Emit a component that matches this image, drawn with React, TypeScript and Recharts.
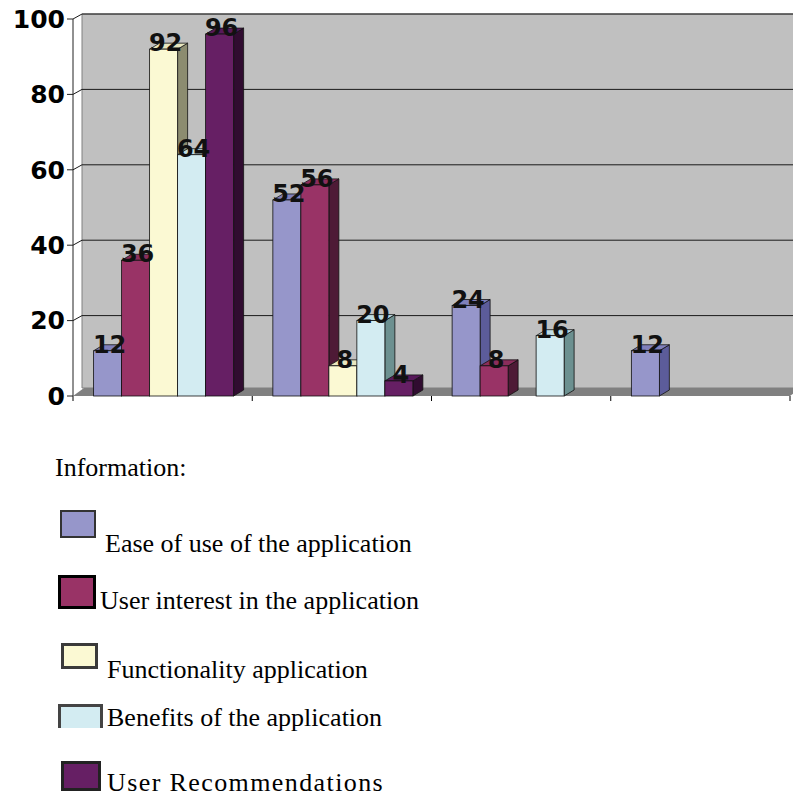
import React from "react";
import { BarChart, Bar, XAxis, YAxis, ReferenceArea, LabelList, Legend } from "recharts";

const categories = ["Group 1", "Group 2", "Group 3", "Group 4"];
const easeOfUse = [12, 52, 24, 12];
const userInterest = [36, 56, 8, 0];
const functionality = [92, 8, 0, 0];
const benefits = [64, 20, 16, 0];
const recommendations = [96, 4, 0, 0];
const yTicks = [0, 20, 40, 60, 80, 100];

const seriesKeys = ["ease", "interest", "functionality", "benefits", "recommendations"];
const seriesNames = [
  "Ease of use of the application",
  "User interest in the application",
  "Functionality application",
  "Benefits of the application",
  "User Recommendations",
];
const seriesValues = [easeOfUse, userInterest, functionality, benefits, recommendations];

const frontColors = ["#9696ca", "#993366", "#fbf9d3", "#d3ecf2", "#661f64"];
const topColors = ["#8080bb", "#8a2d5b", "#e9e7bf", "#c0dde3", "#57195a"];
const sideColors = ["#5c5c9a", "#4e1a36", "#8c8c70", "#6c9090", "#300c30"];

const data = categories.map((category, i) => {
  const row: Record<string, string | number> = { category };
  seriesKeys.forEach((k, s) => {
    row[k] = seriesValues[s][i];
  });
  return row;
});

// fake 3d depth
const DX = 10;
const DY = -6;
const WALL_DX = 9;
const WALL_DY = -5;
const FLOOR_DX = 11;
const FLOOR_DY = -8;

const legendLayout = [
  { box: [60, 510, 36, 28, 2, "#333"], text: [105, 531], spacing: 0 },
  { box: [58, 575, 38, 34, 3, "#000"], text: [100, 588], spacing: 0 },
  { box: [61, 643, 37, 26, 3, "#3a3a3a"], text: [107, 657], spacing: 0 },
  { box: [58, 704, 45, 24, 3, "#444"], text: [107, 705], spacing: 0, open: true },
  { box: [61, 761, 40, 30, 3, "#222"], text: [107, 770], spacing: 1.4 },
];

function Backdrop(props: any) {
  const { x, y, width, height } = props;
  const bottom = y + height;
  const right = x + width;
  const py = (v: number) => y + height * (1 - v / 100);
  return (
    <g>
      <polygon
        points={`${x + WALL_DX},${y + WALL_DY} ${right + WALL_DX},${y + WALL_DY} ${right + WALL_DX},${bottom + FLOOR_DY} ${x + WALL_DX},${bottom + FLOOR_DY}`}
        fill="#c0c0c0"
        stroke="#808080"
        strokeWidth={1}
      />
      {yTicks
        .filter((v) => v > 0)
        .map((v) => (
          <polyline
            key={v}
            points={`${x},${py(v)} ${x + WALL_DX},${py(v) + WALL_DY} ${right + WALL_DX},${py(v) + WALL_DY}`}
            fill="none"
            stroke="#1a1a1a"
            strokeWidth={1}
          />
        ))}
      <polygon
        points={`${x},${bottom} ${right},${bottom} ${right + FLOOR_DX},${bottom + FLOOR_DY} ${x + FLOOR_DX},${bottom + FLOOR_DY}`}
        fill="#808080"
      />
      {categories.concat([""]).map((_, i) => (
        <line
          key={i}
          x1={x + (i * width) / categories.length}
          x2={x + (i * width) / categories.length}
          y1={bottom}
          y2={bottom + 5}
          stroke="#000"
          strokeWidth={1}
        />
      ))}
    </g>
  );
}

function makeBar3D(s: number) {
  return (props: any) => {
    const { x, y, width, height } = props;
    if (!height || height <= 0) return <g />;
    return (
      <g>
        <polygon
          points={`${x + width},${y} ${x + width + DX},${y + DY} ${x + width + DX},${y + height + DY} ${x + width},${y + height}`}
          fill={sideColors[s]}
          stroke="#111"
          strokeWidth={0.8}
        />
        <polygon
          points={`${x},${y} ${x + DX},${y + DY} ${x + width + DX},${y + DY} ${x + width},${y}`}
          fill={topColors[s]}
          stroke="#111"
          strokeWidth={0.8}
        />
        <rect x={x} y={y} width={width} height={height} fill={frontColors[s]} stroke="#111" strokeWidth={0.8} />
      </g>
    );
  };
}

function renderLabel(props: any) {
  const vb = props.viewBox || {};
  const x = props.x ?? vb.x;
  const y = props.y ?? vb.y;
  const width = props.width ?? vb.width;
  const value = props.value;
  if (!value) return null;
  return (
    <text
      x={x + width / 2 + 2}
      y={y + 2}
      textAnchor="middle"
      fontFamily="DejaVu Sans"
      fontWeight="bold"
      fontSize={24}
      fill="#111"
    >
      {value}
    </text>
  );
}

function InfoLegend() {
  const font = { fontFamily: "'Liberation Serif', 'Times New Roman', serif", fontSize: 26, lineHeight: "26px", color: "#000" };
  return (
    <div style={{ position: "relative", width: 793, height: 0 }}>
      <span style={{ ...font, position: "absolute", left: 55, top: 455, whiteSpace: "nowrap" }}>Information:</span>
      {legendLayout.map((item, i) => {
        const [left, top, w, h, bw, bc] = item.box as [number, number, number, number, number, string];
        return (
          <React.Fragment key={i}>
            <div
              style={{
                position: "absolute",
                left,
                top,
                width: w,
                height: h,
                boxSizing: "border-box",
                background: frontColors[i],
                border: `${bw}px solid ${bc}`,
                borderBottom: item.open ? "none" : `${bw}px solid ${bc}`,
              }}
            />
            <span
              style={{
                ...font,
                position: "absolute",
                left: item.text[0],
                top: item.text[1],
                whiteSpace: "nowrap",
                letterSpacing: item.spacing,
              }}
            >
              {seriesNames[i]}
            </span>
          </React.Fragment>
        );
      })}
    </div>
  );
}

export default function App() {
  return (
    <div style={{ position: "absolute", left: 0, top: 0, width: 793, height: 798, background: "#fff" }}>
      <BarChart
        width={793}
        height={798}
        data={data}
        margin={{ top: 19, right: 3, left: 0, bottom: 402 }}
        barCategoryGap="11.5%"
        barGap={0}
      >
        <ReferenceArea y1={0} y2={100} shape={Backdrop} ifOverflow="visible" zIndex={-200} />
        <XAxis dataKey="category" tick={false} tickLine={false} height={0} axisLine={{ stroke: "#000" }} />
        <YAxis
          domain={[0, 100]}
          ticks={yTicks}
          interval={0}
          width={73}
          tickSize={6}
          tickMargin={2}
          axisLine={{ stroke: "#222" }}
          tickLine={{ stroke: "#222" }}
          tick={{ fontFamily: "DejaVu Sans", fontWeight: "bold", fontSize: 25, fill: "#000" }}
        />
        {seriesKeys.map((k, s) => (
          <Bar key={k} dataKey={k} name={seriesNames[s]} fill={frontColors[s]} shape={makeBar3D(s)} isAnimationActive={false}>
            <LabelList dataKey={k} content={renderLabel} />
          </Bar>
        ))}
        <Legend
          content={() => <InfoLegend />}
          wrapperStyle={{ position: "absolute", left: 0, top: 0, width: 793, height: 0 }}
        />
      </BarChart>
    </div>
  );
}
